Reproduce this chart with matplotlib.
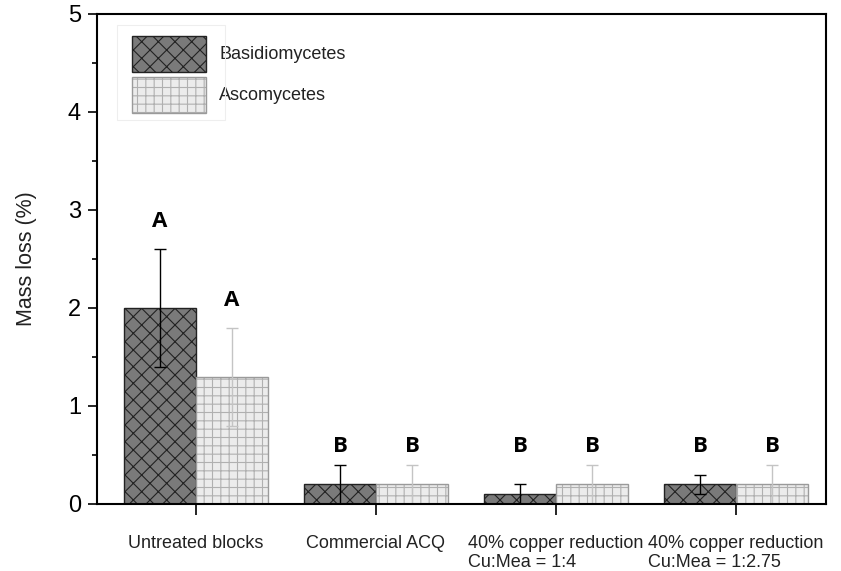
import numpy as np
import matplotlib.pyplot as plt
import matplotlib as mpl
from matplotlib.patches import Rectangle

plt.rcParams['font.family'] = ['Liberation Sans', 'DejaVu Sans']
mpl.rcParams['hatch.linewidth'] = 0.8
mpl.rcParams['hatch.color'] = '#333333'

groups = ["Untreated blocks", "Commercial ACQ",
          "40% copper reduction\nCu:Mea = 1:4",
          "40% copper reduction\nCu:Mea = 1:2.75"]
basidio = [2.0, 0.2, 0.1, 0.2]
basidio_err = [0.6, 0.2, 0.1, 0.1]
asco = [1.3, 0.2, 0.2, 0.2]
asco_err = [0.5, 0.2, 0.2, 0.2]
basidio_letters = ["A", "B", "B", "B"]
asco_letters = ["A", "B", "B", "B"]

x = np.arange(len(groups))
w = 0.4

fig = plt.figure(figsize=(8.41, 5.71), dpi=100)
ax = fig.add_axes([97/841, 1-504/571, (826-97)/841, (504-14)/571])

b1 = ax.bar(x - w/2, basidio, w, color='#7a7a7a', edgecolor='#222222',
            linewidth=1.0, hatch='xx', label='Basidiomycetes')
ax.errorbar(x - w/2, basidio, yerr=basidio_err, fmt='none', ecolor='black',
            elinewidth=1.0, capsize=4, capthick=1.0)

b2 = ax.bar(x + w/2, asco, w, color='#ececec', edgecolor='#9a9a9a',
            linewidth=1.0, hatch='++', label='Ascomycetes')
for p in b2:
    p._hatch_color = mpl.colors.to_rgba('#b0b0b0')
ax.errorbar(x + w/2, asco, yerr=asco_err, fmt='none', ecolor='#c4c4c4',
            elinewidth=1.0, capsize=4, capthick=1.0)

# significance letters sit just above the taller error bar of the pair
lfont = dict(ha='center', va='center', fontsize=16, fontweight='bold',
             family=['Open Sans', 'DejaVu Sans'])
for i in range(len(groups)):
    yb = basidio[i] + basidio_err[i]
    ya = asco[i] + asco_err[i]
    if basidio_letters[i] == asco_letters[i] and i > 0:
        yb = ya = max(yb, ya) - 0.05
    else:
        yb, ya = yb + 0.04, ya + 0.04
    ax.text(x[i] - w/2, yb + 0.24, basidio_letters[i], **lfont)
    ax.text(x[i] + w/2, ya + 0.24, asco_letters[i], **lfont)

ax.set_xlim(-0.55, 3.5)
ax.set_ylim(0, 5)
ax.set_yticks(np.arange(0, 6, 1))
ax.set_yticks(np.arange(0.5, 5, 1), minor=True)
ax.tick_params(axis='y', which='major', direction='out', length=6.5, width=1.2,
               labelsize=17, pad=5)
ax.tick_params(axis='y', which='minor', direction='out', length=3.5, width=1.2)
ax.set_xticks(x)
ax.set_xticklabels(groups, fontsize=13, multialignment='left', color='#222222')
ax.tick_params(axis='x', direction='out', length=8, width=1.2, pad=14)
for s in ax.spines.values():
    s.set_linewidth(1.5)
ax.set_ylabel('Mass loss (%)', fontsize=15.5, labelpad=22, color='#222222')

# legend with a faint box around the swatches only
fig.patches.append(Rectangle((117/841, 1-120/571), 108/841, 95/571,
                             transform=fig.transFigure, fill=False,
                             edgecolor='#eeeeee', linewidth=0.8))
leg = ax.legend(loc='upper left', bbox_to_anchor=(132/841, 1-36/571),
                bbox_transform=fig.transFigure, fontsize=13,
                handlelength=4.1, handleheight=2.69, labelspacing=0.28,
                handletextpad=0.72, borderpad=0, borderaxespad=0,
                frameon=False)
for t in leg.get_texts():
    t.set_color('#222222')

fig.savefig('out.png', dpi=100)
